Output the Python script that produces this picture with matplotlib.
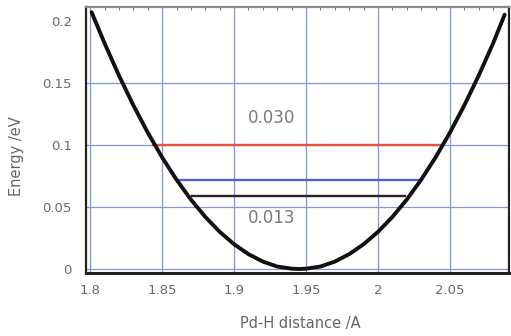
import matplotlib
matplotlib.use('Agg')
import matplotlib.pyplot as plt
from matplotlib.ticker import MultipleLocator

# potential energy curve
distance = [1.801, 1.810, 1.820, 1.830, 1.840, 1.850, 1.860, 1.870, 1.880, 1.890,
            1.900, 1.910, 1.920, 1.930, 1.940, 1.945, 1.950, 1.960, 1.970, 1.980,
            1.990, 2.000, 2.010, 2.020, 2.030, 2.040, 2.050, 2.060, 2.070, 2.080,
            2.088]
energy = [0.207, 0.182, 0.156, 0.132, 0.110, 0.090, 0.072, 0.056, 0.042, 0.030,
          0.020, 0.012, 0.006, 0.002, 0.0003, 0.000, 0.0003, 0.002, 0.006, 0.012,
          0.020, 0.030, 0.042, 0.056, 0.072, 0.090, 0.110, 0.132, 0.156, 0.182,
          0.205]

# vibrational levels: energy, left end, right end
level_energy = [0.100, 0.072, 0.059]
level_left = [1.844, 1.860, 1.871]
level_right = [2.044, 2.029, 2.019]
level_colors = ['#e5533c', '#4a66c8', '#252525']

# gap annotations
gap_labels = ['0.030', '0.013']
gap_x = [1.926, 1.926]
gap_y = [0.122, 0.041]

x_ticks = [1.8, 1.85, 1.9, 1.95, 2.0, 2.05]
x_tick_labels = ['1.8', '1.85', '1.9', '1.95', '2', '2.05']
y_ticks = [0, 0.05, 0.1, 0.15, 0.2]
y_tick_labels = ['0', '0.05', '0.1', '0.15', '0.2']

fig = plt.figure(figsize=(5.11, 3.36), dpi=100)
ax = fig.add_axes([0.168, 0.1875, 0.828, 0.792])

ax.plot(distance, energy, color='#111111', lw=2.8, solid_capstyle='round',
        solid_joinstyle='round', zorder=4)
for e, x0, x1, c in zip(level_energy, level_left, level_right, level_colors):
    ax.plot([x0, x1], [e, e], color=c, lw=1.7, zorder=3)

for txt, x, y in zip(gap_labels, gap_x, gap_y):
    ax.text(x, y, txt, ha='center', va='center', fontsize=12, color='#7a7a7a')

ax.set_xlim(1.797, 2.091)
ax.set_ylim(-0.0032, 0.2113)
ax.set_xticks(x_ticks)
ax.set_xticklabels(x_tick_labels)
ax.set_yticks(y_ticks)
ax.set_yticklabels(y_tick_labels)
ax.tick_params(axis='both', length=0, labelsize=9.5, labelcolor='#6a6a6a')
ax.tick_params(axis='x', pad=8)
ax.tick_params(axis='y', pad=10)

# little inward ticks along the top edge
ax.xaxis.set_minor_locator(MultipleLocator(0.01))
ax.tick_params(axis='x', which='minor', direction='in', top=True, bottom=False,
               length=2.5, width=0.8, color='#777777')

ax.grid(True, color='#8596da', lw=0.9)
ax.yaxis.get_gridlines()[-1].set_visible(False)
ax.set_axisbelow(True)

for side in ['left', 'bottom', 'right']:
    ax.spines[side].set_color('#222222')
    ax.spines[side].set_linewidth(1.6)
ax.spines['bottom'].set_linewidth(2.2)
ax.spines['top'].set_color('#8a8a8a')
ax.spines['top'].set_linewidth(1.6)

ax.set_xlabel('Pd-H distance /A', fontsize=10.5, color='#666666')
ax.set_ylabel('Energy /eV', fontsize=10.5, color='#666666')
ax.xaxis.set_label_coords(0.506, -0.163)
ax.yaxis.set_label_coords(-0.146, 0.44)

fig.savefig('out.png', dpi=100)
